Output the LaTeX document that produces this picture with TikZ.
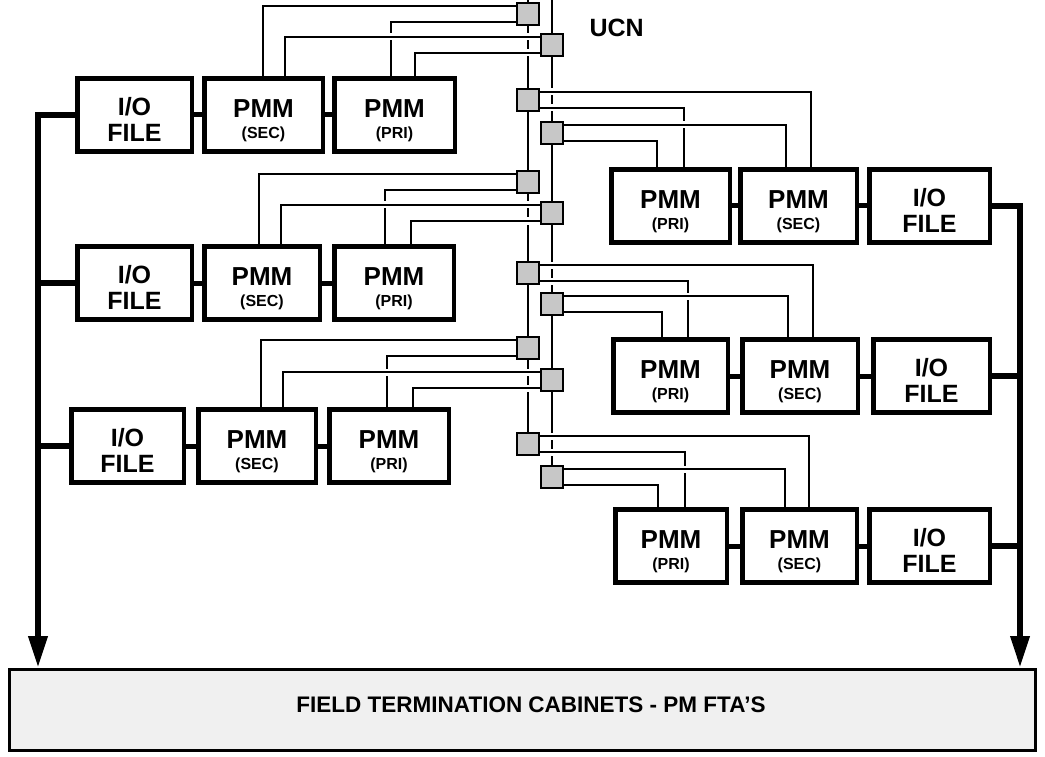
\documentclass[tikz,border=0pt]{standalone}
\usepackage{fontspec}
\setmainfont{Liberation Sans}
\usetikzlibrary{arrows.meta}
\newcommand\pmmlbl[1]{\begin{tabular}{@{}c@{}}\fontsize{26}{26}\selectfont\rule[-3.6pt]{0pt}{33pt}PMM\\\fontsize{16}{16}\selectfont\rule[-3pt]{0pt}{20.4pt}(#1)\end{tabular}}
\newcommand\iolbl{\begin{tabular}{@{}c@{}}\fontsize{25}{25}\selectfont\rule[-3.6pt]{0pt}{34.6pt}I/O\\\fontsize{25}{25}\selectfont\rule[-3.6pt]{0pt}{26.4pt}FILE\end{tabular}}
\begin{document}
\begin{tikzpicture}[x=1pt,y=-1pt,
  box/.style={draw,line width=4.5pt,inner sep=0pt,minimum height=73pt,minimum width=#1,align=center,font=\bfseries},
  box/.default=116pt,
  tap/.style={draw,line width=2.6pt,fill=black!22,minimum size=22pt,inner sep=0pt},
  wire/.style={line width=2.2pt,preaction={draw,white,line width=7pt}},
  bus/.style={line width=2.2pt},
  trunk/.style={line width=6.5pt},
  link/.style={line width=5pt},
  tip/.style={-{Triangle[length=32pt,width=18pt]}}]
\useasboundingbox (0,0) rectangle (1045,757);

% field termination cabinets
\node[draw,line width=3pt,fill=black!6,minimum width=1026pt,minimum height=81pt,inner sep=0pt] (fld) at (522.5,710) {};
\node[font=\bfseries\fontsize{22.5}{22.5}\selectfont] (fldtxt) at (531,705) {FIELD TERMINATION CABINETS - PM FTA'S};

% left column boxes
\node[box=114.5pt] (io1) at (134.5,115) {\iolbl};
\node[box=118.5pt] (sec1) at (263.5,115) {\pmmlbl{SEC}};
\node[box=120.5pt] (pri1) at (394.5,115) {\pmmlbl{PRI}};
\node[box=114.5pt] (io2) at (134.5,283) {\iolbl};
\node[box=115.5pt] (sec2) at (262,283) {\pmmlbl{SEC}};
\node[box=119.5pt] (pri2) at (394,283) {\pmmlbl{PRI}};
\node[box=112.5pt] (io3) at (127.5,446) {\iolbl};
\node[box=117.5pt] (sec3) at (257,446) {\pmmlbl{SEC}};
\node[box=119.5pt] (pri3) at (389,446) {\pmmlbl{PRI}};

% right column boxes
\node[box=118.5pt] (prir1) at (670.5,206) {\pmmlbl{PRI}};
\node[box=116.5pt] (secr1) at (798.5,206) {\pmmlbl{SEC}};
\node[box=120.5pt] (ior1) at (929.5,206) {\iolbl};
\node[box=114.5pt] (prir2) at (670.5,376) {\pmmlbl{PRI}};
\node[box=115.5pt] (secr2) at (800,376) {\pmmlbl{SEC}};
\node[box=116.5pt] (ior2) at (931.5,376) {\iolbl};
\node[box=111.5pt] (prir3) at (671,546) {\pmmlbl{PRI}};
\node[box=114.5pt] (secr3) at (799.5,546) {\pmmlbl{SEC}};
\node[box=120.5pt] (ior3) at (929.5,546) {\iolbl};

% links between adjacent boxes
\foreach \a/\b in {io1/sec1,sec1/pri1,io2/sec2,sec2/pri2,io3/sec3,sec3/pri3,
                   prir1/secr1,secr1/ior1,prir2/secr2,secr2/ior2,prir3/secr3,secr3/ior3}
  \draw[link] (\a.east) -- (\b.west);

% trunks to field termination cabinets
\coordinate (ltr) at (38,0);
\coordinate (rtr) at (1020,0);
\draw[trunk,tip] (io1.west) -| (ltr |- fld.north);
\draw[trunk] (io2.west) -- (io2.west -| ltr);
\draw[trunk] (io3.west) -- (io3.west -| ltr);
\draw[trunk,tip] (ior1.east) -| (rtr |- fld.north);
\draw[trunk] (ior2.east) -- (ior2.east -| rtr);
\draw[trunk] (ior3.east) -- (ior3.east -| rtr);

% UCN bus
\coordinate (lbt) at (528,0);
\coordinate (rbt) at (552,0);
\node[tap] (t1) at (528,14) {};
\node[tap] (t2) at (552,45) {};
\node[tap] (t3) at (528,100) {};
\node[tap] (t4) at (552,133) {};
\node[tap] (t5) at (528,182) {};
\node[tap] (t6) at (552,213) {};
\node[tap] (t7) at (528,273) {};
\node[tap] (t8) at (552,304) {};
\node[tap] (t9) at (528,348) {};
\node[tap] (t10) at (552,380) {};
\node[tap] (t11) at (528,444) {};
\node[tap] (t12) at (552,477) {};
\draw[bus] (lbt) -- (t1.north);
\draw[bus] (t1.south) -- (t3.north);
\draw[bus] (t3.south) -- (t5.north);
\draw[bus] (t5.south) -- (t7.north);
\draw[bus] (t7.south) -- (t9.north);
\draw[bus] (t9.south) -- (t11.north);
\draw[bus] (rbt) -- (t2.north);
\draw[bus] (t2.south) -- (t4.north);
\draw[bus] (t4.south) -- (t6.north);
\draw[bus] (t6.south) -- (t8.north);
\draw[bus] (t8.south) -- (t10.north);
\draw[bus] (t10.south) -- (t12.north);
\node[font=\bfseries\fontsize{25}{25}\selectfont,anchor=base west] (ucn) at (586,37) {UCN};

% wires, left group row 1
\draw[wire] ([yshift=8pt]t1.west) -| ([xshift=-0.5pt]sec1.north);
\draw[wire] ([yshift=-8pt]t1.west) -| ([xshift=-3.5pt]pri1.north);
\draw[wire] ([yshift=8pt]t2.west) -| ([xshift=21.5pt]sec1.north);
\draw[wire] ([yshift=-8pt]t2.west) -| ([xshift=20.5pt]pri1.north);
% right group row 1
\draw[wire] ([yshift=8pt]t3.east) -| ([xshift=12.5pt]secr1.north);
\draw[wire] ([yshift=-8pt]t3.east) -| ([xshift=13.5pt]prir1.north);
\draw[wire] ([yshift=8pt]t4.east) -| ([xshift=-12.5pt]secr1.north);
\draw[wire] ([yshift=-8pt]t4.east) -| ([xshift=-13.5pt]prir1.north);
% left group row 2
\draw[wire] ([yshift=8pt]t5.west) -| ([xshift=-3pt]sec2.north);
\draw[wire] ([yshift=-8pt]t5.west) -| ([xshift=-9pt]pri2.north);
\draw[wire] ([yshift=8pt]t6.west) -| ([xshift=19pt]sec2.north);
\draw[wire] ([yshift=-8pt]t6.west) -| ([xshift=17pt]pri2.north);
% right group row 2
\draw[wire] ([yshift=8pt]t7.east) -| ([xshift=13pt]secr2.north);
\draw[wire] ([yshift=-8pt]t7.east) -| ([xshift=17.5pt]prir2.north);
\draw[wire] ([yshift=8pt]t8.east) -| ([xshift=-12pt]secr2.north);
\draw[wire] ([yshift=-8pt]t8.east) -| ([xshift=-8.5pt]prir2.north);
% left group row 3
\draw[wire] ([yshift=8pt]t9.west) -| ([xshift=4pt]sec3.north);
\draw[wire] ([yshift=-8pt]t9.west) -| ([xshift=-2pt]pri3.north);
\draw[wire] ([yshift=8pt]t10.west) -| ([xshift=26pt]sec3.north);
\draw[wire] ([yshift=-8pt]t10.west) -| ([xshift=24pt]pri3.north);
% right group row 3
\draw[wire] ([yshift=8pt]t11.east) -| ([xshift=9.5pt]secr3.north);
\draw[wire] ([yshift=-8pt]t11.east) -| ([xshift=14pt]prir3.north);
\draw[wire] ([yshift=8pt]t12.east) -| ([xshift=-14.5pt]secr3.north);
\draw[wire] ([yshift=-8pt]t12.east) -| ([xshift=-13pt]prir3.north);
\end{tikzpicture}
\end{document}
